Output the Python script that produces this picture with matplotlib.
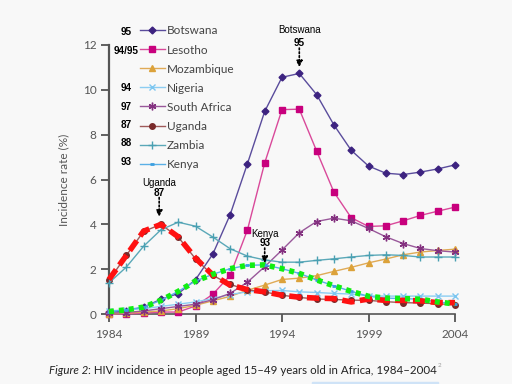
import matplotlib
matplotlib.use("Agg")
import matplotlib.pyplot as plt
from matplotlib.patches import Rectangle

years = list(range(1984, 2005))

botswana = [0.1, 0.15, 0.32, 0.67, 0.92, 1.54, 2.68, 4.43, 6.7, 9.03, 10.55,
            10.72, 9.78, 8.43, 7.3, 6.6, 6.28, 6.22, 6.33, 6.47, 6.65]
lesotho = [0.02, 0.02, 0.05, 0.1, 0.1, 0.37, 0.89, 1.73, 3.75, 6.74, 9.11,
           9.13, 7.27, 5.44, 4.3, 3.91, 3.94, 4.16, 4.4, 4.59, 4.77]
mozambique = [0.02, 0.05, 0.1, 0.15, 0.25, 0.4, 0.6, 0.8, 1.07, 1.3, 1.55,
              1.61, 1.72, 1.91, 2.09, 2.29, 2.46, 2.65, 2.77, 2.84, 2.9]
nigeria = [0.15, 0.2, 0.25, 0.35, 0.45, 0.55, 0.7, 0.88, 1.0, 1.05, 1.06,
           1.0, 0.97, 0.93, 0.9, 0.82, 0.81, 0.81, 0.81, 0.81, 0.81]
south_africa = [0.05, 0.08, 0.15, 0.25, 0.35, 0.45, 0.65, 0.93, 1.43, 2.12, 2.86,
                3.63, 4.13, 4.28, 4.16, 3.82, 3.45, 3.15, 2.93, 2.83, 2.77]
uganda = [1.51, 2.62, 3.69, 4.0, 3.44, 2.47, 1.73, 1.33, 1.09, 0.99, 0.85,
          0.75, 0.68, 0.66, 0.63, 0.62, 0.56, 0.52, 0.5, 0.47, 0.42]
zambia = [1.4, 2.1, 3.03, 3.76, 4.1, 3.92, 3.44, 2.92, 2.59, 2.42, 2.32,
          2.32, 2.4, 2.47, 2.55, 2.62, 2.65, 2.62, 2.55, 2.55, 2.55]
kenya = [0.12, 0.2, 0.32, 0.62, 1.02, 1.48, 1.78, 2.03, 2.18, 2.2, 2.03,
         1.82, 1.53, 1.27, 1.02, 0.8, 0.72, 0.7, 0.67, 0.55, 0.46]
# thick red dashed trace drawn over Uganda
uganda_hl = [1.55, 2.62, 3.7, 4.0, 3.45, 2.5, 1.75, 1.3, 1.1, 1.0, 0.85,
             0.76, 0.72, 0.7, 0.55, 0.68, 0.62, 0.62, 0.6, 0.52, 0.52]

peak_years = ["95", "94/95", "", "94", "97", "87", "88", "93"]

series = [
    ("Botswana", botswana, "#3d2380", "#5a4c9c", "D", 3.5, 1),
    ("Lesotho", lesotho, "#c8007d", "#d9499a", "s", 5, 1),
    ("Mozambique", mozambique, "#dca23a", "#e0aa55", "^", 4, 1),
    ("Nigeria", nigeria, "#7cc6f0", "#8ccdf2", "x", 4.5, 1),
    ("South Africa", south_africa, "#83307f", "#99589a", (6, 2, 0), 5.5, 1),
    ("Uganda", uganda, "#7a2a2a", "#a05a5a", "o", 4, 1),
    ("Zambia", zambia, "#4aa0b2", "#5aa8b8", "+", 5.5, 1),
    ("Kenya", kenya, "#3c9fe0", "#5ab0e6", "_", 3.5, 2),
]

bg = "#f8f8f8"
fig = plt.figure(figsize=(5.12, 3.84), dpi=100, facecolor=bg)
ax = fig.add_axes([109 / 512, 1 - 314.3 / 384, 346 / 512, 269.6 / 384])
ax.set_facecolor(bg)

for name, vals, mc, lc, mk, ms, mew in series:
    ax.plot(years, vals, color=lc, lw=1.0, marker=mk, ms=ms, mfc=mc, mec=mc,
            mew=mew, label=name, clip_on=False, zorder=3)

ax.plot(years, uganda_hl, color="#ff1111", lw=4, dashes=(2.2, 1.0),
        clip_on=False, zorder=5)
ax.plot(years, kenya, color="#11ee11", lw=4, dashes=(0.9, 0.9),
        clip_on=False, zorder=6)

ax.set_xlim(1984, 2004)
ax.set_ylim(0, 12)
ax.set_xticks([1984, 1989, 1994, 1999, 2004])
ax.set_yticks([0, 2, 4, 6, 8, 10, 12])
for s in ["top", "right"]:
    ax.spines[s].set_visible(False)
for s in ["left", "bottom"]:
    ax.spines[s].set_color("#555555")
ax.spines["left"].set_linewidth(1.6)
ax.spines["bottom"].set_linewidth(1.2)
ax.tick_params(direction="out", length=6, width=1.3, color="#555555",
               labelcolor="#555555", labelsize=8.5, pad=3)
ax.tick_params(axis="x", pad=4.5)
for lab in ax.get_xticklabels() + ax.get_yticklabels():
    lab.set_family("Lato")
ax.set_ylabel("Incidence rate (%)", family="Lato", fontsize=8.5,
              color="#555555", labelpad=10)

leg = ax.legend(loc="upper left", bbox_to_anchor=(140 / 512, 1 - 25.5 / 384),
                bbox_transform=fig.transFigure, frameon=False, borderpad=0,
                borderaxespad=0, handlelength=2.1, handletextpad=0.2,
                labelspacing=0.68, prop={"family": "Lato", "size": 8.5})
for t in leg.get_texts():
    t.set_color("#444444")

row_y = [32.3, 50.7, 69.3, 88.3, 106.7, 125, 143.3, 161.7]
for txt, yy in zip(peak_years, row_y):
    fig.text(126 / 512, 1 - yy / 384, txt, ha="center", va="center",
             family="Liberation Sans", weight="bold", fontsize=7.2)

arrow = dict(arrowstyle="-|>", linestyle=(0, (1, 1.3)), color="black",
             lw=1.2, mutation_scale=9, shrinkA=0, shrinkB=0)
notes = [("Botswana", "95", 1995.0, 12.67, 12.07, 11.85, 11.0),
         ("Uganda", "87", 1986.9, 5.83, 5.42, 5.2, 4.34),
         ("Kenya", "93", 1993.0, 3.56, 3.16, 2.95, 2.28)]
for name, yr, x, y1, y2, ya, yb in notes:
    ax.text(x, y1, name, ha="center", va="center", family="Liberation Sans",
            fontsize=7, clip_on=False)
    ax.text(x, y2, yr, ha="center", va="center", family="Liberation Sans",
            weight="bold", fontsize=7.2, clip_on=False)
    ax.annotate("", xy=(x, yb), xytext=(x, ya), arrowprops=arrow,
                annotation_clip=False)

# caption
cy = 1 - 370 / 384
t1 = fig.text(49 / 512, cy, "Figure 2", style="italic", family="Lato",
              fontsize=8.3, color="#222222", va="center")
fig.canvas.draw()
r = fig.canvas.get_renderer()
bb = t1.get_window_extent(r)
t2 = fig.text(bb.x1 / 512, cy,
              ": HIV incidence in people aged 15\u201349 years old in Africa, 1984\u20132004",
              family="Lato", fontsize=8.3, color="#222222", va="center")
bb2 = t2.get_window_extent(r)
fig.text(bb2.x1 / 512 + 0.002, cy + 0.012, "2", family="Lato", fontsize=4.5,
         color="#999999", va="center")

fig.patches.append(Rectangle((312 / 512, 0), 126 / 512, 2.5 / 384,
                             transform=fig.transFigure, color="#cfe3f7"))

fig.savefig("out.png", dpi=100, facecolor=bg)
